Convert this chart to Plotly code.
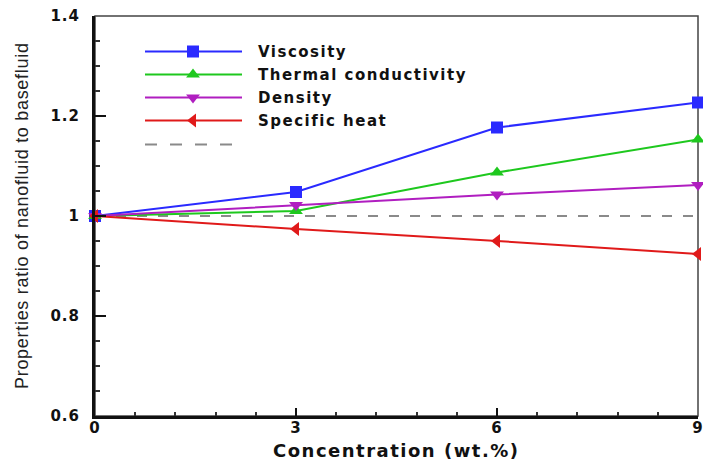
import plotly.graph_objects as go

# ---- data ----
concentration = [0, 3, 6, 9]
viscosity = [1.0, 1.048, 1.177, 1.227]
thermal_conductivity = [1.0, 1.010, 1.087, 1.153]
density = [1.0, 1.022, 1.043, 1.062]
specific_heat = [1.0, 0.974, 0.950, 0.924]
reference_x = [0, 9]
reference_ratio = [1.0, 1.0]

series_names = ["Viscosity", "Thermal conductivity", "Density", "Specific heat"]
x_tick_vals = [0, 3, 6, 9]
x_tick_text = ["0", "3", "6", "9"]
y_tick_vals = [0.6, 0.8, 1.0, 1.2, 1.4]
y_tick_text = ["0.6", "0.8", "1", "1.2", "1.4"]

# ---- styles ----
colors = ["#2a2aff", "#1ec81e", "#b01ec0", "#e01a1a"]
symbols = ["square", "triangle-up", "triangle-down", "triangle-left"]
gray = "#8a8a8a"
bold_font = "DejaVu Sans"


def spaced(t, px):
    return '<span style="letter-spacing:%spx">%s</span>' % (px, t)


W, H = 703, 468
L, R, T, B = 95, 5, 16, 52
pw, ph = W - L - R, H - T - B

fig = go.Figure()

# reference line
fig.add_trace(go.Scatter(x=reference_x, y=reference_ratio, mode="lines",
                         line=dict(color=gray, width=2, dash="10px,11px"),
                         showlegend=False, hoverinfo="skip"))

all_series = [viscosity, thermal_conductivity, density, specific_heat]
for vals, c, s, n in zip(all_series, colors, symbols, series_names):
    fig.add_trace(go.Scatter(x=concentration, y=vals, mode="lines+markers", name=n,
                             line=dict(color=c, width=2),
                             marker=dict(symbol=s, size=12, color=c),
                             cliponaxis=False, showlegend=False))

# ---- hand-made legend on an overlay axis (pixel units inside plot area) ----
leg_x0, leg_x1, leg_mx, leg_tx = 145 - L, 242 - L, 193 - L, 256 - L
leg_rows = [51.5, 74.5, 97.5, 120.5, 144.5]
for i, (c, s, n) in enumerate(zip(colors, symbols, series_names)):
    yy = H - B - leg_rows[i]
    fig.add_trace(go.Scatter(x=[leg_x0, leg_x1], y=[yy, yy], mode="lines",
                             line=dict(color=c, width=2), xaxis="x2", yaxis="y2",
                             showlegend=False, hoverinfo="skip"))
    fig.add_trace(go.Scatter(x=[leg_mx], y=[yy], mode="markers",
                             marker=dict(symbol=s, size=12, color=c), xaxis="x2", yaxis="y2",
                             showlegend=False, hoverinfo="skip"))
    fig.add_annotation(x=leg_tx, y=yy, xref="x2", yref="y2", text=spaced(n, 1.5), showarrow=False,
                       xanchor="left", yanchor="middle",
                       font=dict(family=bold_font, size=15, color="#111", weight="bold"))
yy = H - B - leg_rows[4]
fig.add_trace(go.Scatter(x=[leg_x0, leg_x1 - 10], y=[yy, yy], mode="lines",
                         line=dict(color=gray, width=2, dash="12px,13px"),
                         xaxis="x2", yaxis="y2", showlegend=False, hoverinfo="skip"))

# frame (top / right borders)
fig.add_shape(type="rect", xref="paper", yref="paper", x0=0, x1=1, y0=0, y1=1,
              line=dict(color="#444", width=1.5), layer="below")

tickfont = dict(family=bold_font, size=15, color="#111", weight="bold")
fig.update_layout(
    width=W, height=H,
    margin=dict(l=L, r=R, t=T, b=B, pad=0, autoexpand=False),
    plot_bgcolor="white", paper_bgcolor="white",
    showlegend=False,
    xaxis=dict(range=[0, 9], tickvals=x_tick_vals, ticktext=[spaced(t, 1) for t in x_tick_text],
               ticks="inside", ticklen=8, tickwidth=2, tickcolor="#111",
               minor=dict(dtick=0.6, ticks="inside", ticklen=4, tickwidth=1.5, tickcolor="#333"),
               showline=True, linecolor="#111", linewidth=2.5, showgrid=False, zeroline=False,
               tickfont=tickfont, ticklabelstandoff=-4, ticklabeloverflow="allow",
               automargin=False),
    yaxis=dict(range=[0.6, 1.4], tickvals=y_tick_vals, ticktext=[spaced(t, 1) for t in y_tick_text],
               ticks="inside", ticklen=11, tickwidth=2, tickcolor="#111",
               minor=dict(dtick=0.05, ticks="inside", ticklen=5, tickwidth=1.5, tickcolor="#333"),
               showline=True, linecolor="#111", linewidth=3, showgrid=False, zeroline=False,
               tickfont=tickfont, ticklabelstandoff=9, automargin=False),
    xaxis2=dict(range=[0, pw], overlaying="x", visible=False, fixedrange=True),
    yaxis2=dict(range=[0, ph], overlaying="y", visible=False, fixedrange=True),
)

# axis titles
fig.add_annotation(x=0.5, y=(H - B - 450) / ph, xref="paper", yref="paper",
                   text=spaced("Concentration (wt.%)", 1.5),
                   showarrow=False, xanchor="center", yanchor="middle",
                   font=dict(family=bold_font, size=18, color="#111", weight="bold"))
fig.add_annotation(x=(22 - L) / pw, y=0.5, xref="paper", yref="paper",
                   text=spaced("Properties ratio of nanofluid to basefluid", 0.7), textangle=-90,
                   showarrow=False, xanchor="center", yanchor="middle",
                   font=dict(family="Liberation Sans", size=18, color="#222"))

fig.write_html("out.html")
